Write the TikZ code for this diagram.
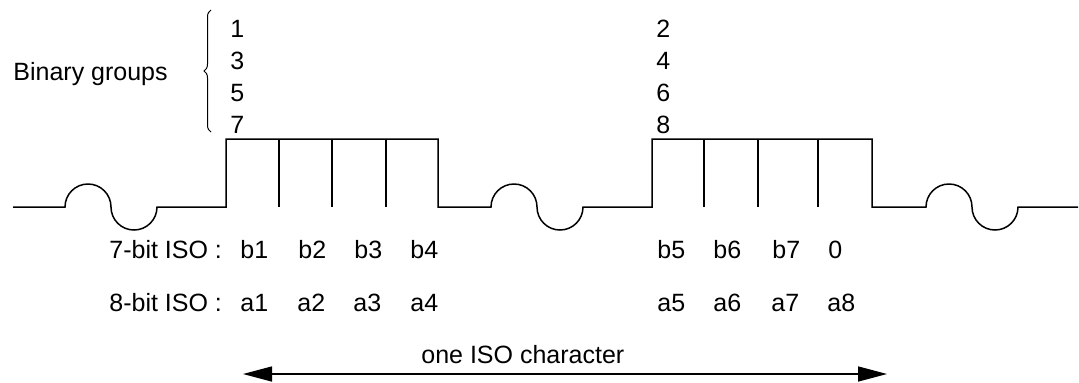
\documentclass[tikz,border=0pt]{standalone}
\usepackage{fontspec}
\setmainfont{Liberation Sans}
\usepackage{tikz}
\usetikzlibrary{arrows.meta,decorations.pathreplacing}

\begin{document}
\begin{tikzpicture}[x=0.5pt, y=0.5pt,
    lbl/.style={anchor=base west, inner sep=0pt,
      font=\fontsize{12.5}{15}\selectfont},
    signal/.style={line width=0.75pt}]
    \useasboundingbox (0,0) rectangle (1079,382);
    % line with the two frames
    \draw [signal] (13,175) -- (65,175)
        arc [start angle=180, end angle=0, radius=23]
        arc [start angle=180, end angle=360, radius=23] -- (226,175) --
        (226,243) -- (438,243) -- (438,175) -- (491,175)
        arc [start angle=180, end angle=0, radius=23]
        arc [start angle=180, end angle=360, radius=23] -- (652,175) --
        (652,243) -- (872,243) -- (872,175) -- (926,175)
        arc [start angle=180, end angle=0, radius=23]
        arc [start angle=180, end angle=360, radius=23] -- (1078,175);
    \foreach \x in {279, 332, 386, 704, 758, 818}
      \draw [signal] (\x,243) -- (\x,175);
    % groups
    \node [lbl] (B) at (13,302) {Binary groups};
    \draw [line width=0.5pt, decorate, decoration={brace, amplitude=3.5pt}]
        (211,250) -- (211,372);
    \foreach \d [count=\i] in {1,3,5,7}
      \node [lbl] (odd\d) at (230,377-32*\i) {\d};
    \foreach \d [count=\i] in {2,4,6,8}
      \node [lbl] (even\d) at (656,377-32*\i) {\d};
    % bits
    \node [lbl] (S) at (109,124) {7-bit ISO :};
    \node [lbl] (E) at (109,71) {8-bit ISO :};
    \foreach \t/\x in {b1/240, b2/298, b3/354, b4/410,
                       b5/657, b6/713, b7/772, 0/828}
      \node [lbl] (s\t) at (\x,124) {\t};
    \foreach \i/\x in {1/240, 2/297, 3/353, 4/410,
                       5/657, 6/713, 7/771, 8/827}
      \node [lbl] (a\i) at (\x,71) {a\i};
    % character
    \coordinate (L) at (243,8);
    \coordinate (R) at (887,8);
    \node [lbl] (C) at (421,19) {one ISO character};
    \draw [line width=0.75pt, {Triangle[length=14.5pt, width=7.5pt]}-{Triangle[length=14.5pt, width=7.5pt]}]
        (L) -- (R);
  \end{tikzpicture}
\end{document}
